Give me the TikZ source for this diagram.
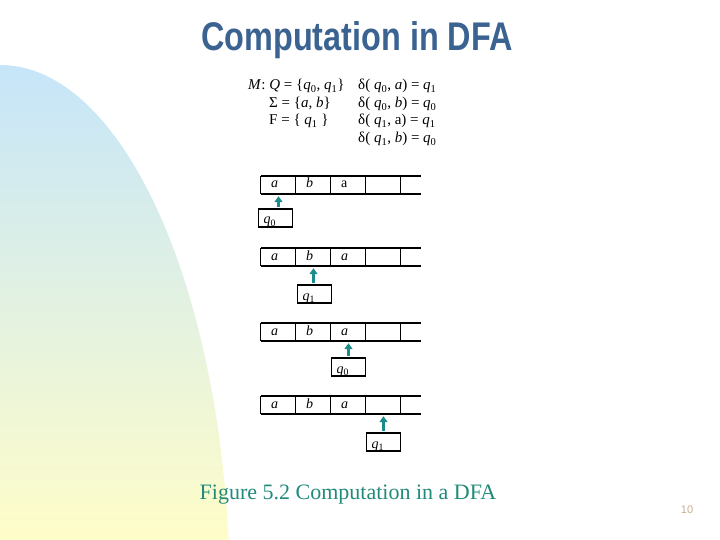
\documentclass[tikz,border=0pt]{standalone}
\usepackage{fontspec}
\setmainfont{Liberation Serif}
\newfontfamily\titlefont{Liberation Sans}
\usetikzlibrary{arrows.meta,calc}
\definecolor{titleblue}{HTML}{3B6391}
\definecolor{headteal}{HTML}{1B8C8C}
\definecolor{capteal}{HTML}{218A7A}
\definecolor{skyblue}{HTML}{C5E5FA}
\definecolor{paleyellow}{HTML}{FFFDC9}
\definecolor{pagetan}{HTML}{C9AE8F}
\newcommand{\qsub}[1]{\textit{q}\textsubscript{#1}}
\begin{document}
\begin{tikzpicture}[x=1pt,y=-1pt,
    defn/.style={anchor=base west,inner sep=0pt,font=\fontsize{15}{15}\selectfont},
    cell/.style={minimum height=18pt,text width=15pt,text height=9pt,text depth=3pt,inner xsep=10pt,inner ysep=0pt,align=left,font=\fontsize{14}{14}\selectfont},
    headbox/.style={draw,line width=1.3pt,minimum height=18pt,text width=24pt,text height=12pt,text depth=0pt,inner xsep=5pt,inner ysep=0pt,align=left,font=\fontsize{14}{14}\selectfont},
    headarrow/.style={headteal,line width=2.8pt,-{Triangle[length=6pt,width=8pt]},shorten <=1.5pt,shorten >=2pt},
    tapeline/.style={line width=1.7pt}]
    \useasboundingbox (0,0) rectangle (720,540);
    % backdrop
    \begin{scope}
        \clip (0,600) ellipse [x radius=230,y radius=535];
        \shade[top color=skyblue,bottom color=paleyellow] (0,60) rectangle (232,540);
    \end{scope}
    \node[titleblue,font=\titlefont\bfseries\fontsize{40}{40}\selectfont] (title) at (357,40) {\scalebox{0.81}[1]{Computation in DFA}};
    % machine
    \node[defn] (s1) at (248,90) {\textit{M}: \textit{Q} = \{\qsub{0}, \qsub{1}\}};
    \node[defn] (s2) at (269,108) {Σ = \{\textit{a}, \textit{b}\}};
    \node[defn] (s3) at (269,125) {F = \{ \qsub{1} \}};
    \node[defn] (d1) at (358,90) {δ( \qsub{0}, \textit{a}) = \qsub{1}};
    \node[defn] (d2) at (358,108) {δ( \qsub{0}, \textit{b}) = \qsub{0}};
    \node[defn] (d3) at (358,125) {δ( \qsub{1}, a) = \qsub{1}};
    \node[defn] (d4) at (358,143) {δ( \qsub{1}, \textit{b}) = \qsub{0}};
    % tapes and heads
    \foreach \t/\y/\thr/\q/\dx/\hy in {1/185/a/0/-3/218, 2/257/\textit{a}/1/1/294, 3/332/\textit{a}/0/0/367, 4/405/\textit{a}/1/0/442}{
        \node[cell] (c\t1) at (278.5,\y) {\textit{a}};
        \node[cell] (c\t2) at (313.5,\y) {\textit{b}};
        \node[cell] (c\t3) at (348.5,\y) {\thr};
        \node[cell] (c\t4) at (383.5,\y) {};
        \node[cell] (c\t5) at (418.5,\y) {};
        \draw[tapeline] (c\t1.north west) -- ++(160,0);
        \draw[tapeline] (c\t1.south west) -- ++(160,0);
        \foreach \i in {1,...,5}{\draw[thick] (c\t\i.north west) -- (c\t\i.south west);}
        \node[headbox] (h\t) at ($(c\t\t.center)+(\dx,\hy-\y)$) {\qsub{\q}};
        \draw[headarrow] (h\t.north -| c\t\t.south) -- (c\t\t.south);
    }
    \node[capteal,font=\fontsize{22}{22}\selectfont] (caption) at (348,495) {Figure 5.2 Computation in a DFA};
    \node[pagetan,font=\titlefont\fontsize{11}{11}\selectfont] (page) at (687,510) {10};
\end{tikzpicture}
\end{document}
